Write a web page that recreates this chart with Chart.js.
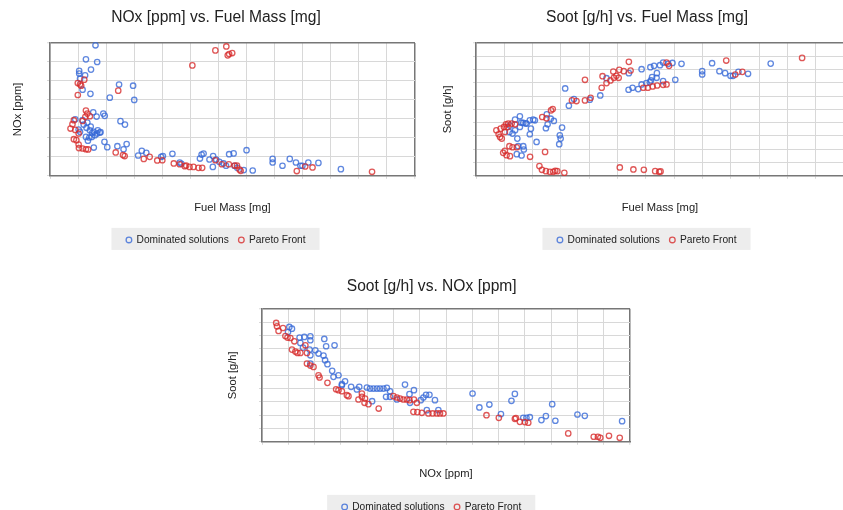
<!DOCTYPE html>
<html>
<head>
<meta charset="utf-8">
<script src="https://cdn.jsdelivr.net/npm/chart.js@4"></script>
<style>
  html, body { margin: 0; padding: 0; background: #fff; }
  body { width: 843px; height: 510px; overflow: hidden; position: relative; }
  canvas { position: absolute; }
</style>
</head>
<body>
<canvas id="noxFuel" width="432" height="255" style="left:0px;top:0px"></canvas>
<canvas id="sootFuel" width="430" height="255" style="left:430px;top:0px"></canvas>
<canvas id="sootNox" width="432" height="255" style="left:215px;top:267px"></canvas>
<script>
// values are in grid units (the original chart shows no tick labels)

// NOx vs fuel mass
const noxFuelDomX = [1.62,1.28,1.68,1.46,1.04,1.04,1.25,1.07,1.16,1.44,2.46,2.96,2.13,3.0,1.54,1.66,1.9,1.95,0.9,1.16,1.33,2.51,2.67,1.3,1.42,1.56,1.68,1.77,1.6,1.49,1.4,1.28,1.02,1.07,1.7,1.8,1.5,1.45,1.2,1.35,1.94,2.04,1.56,2.4,2.73,2.62,3.27,3.43,3.14,3.96,4.02,4.36,4.62,4.68,5.4,5.47,5.34,5.68,5.81,5.92,5.8,6.03,6.18,6.27,6.38,6.54,6.57,6.67,7.0,6.9,7.22,7.93,7.93,8.28,8.54,8.76,8.92,8.99,9.2,9.56,10.36];
const noxFuelDomY = [6.88,6.14,6.0,5.6,5.53,5.39,5.3,5.12,4.54,4.32,4.81,4.75,4.12,4.0,3.35,3.12,3.28,3.16,2.98,2.93,2.81,2.88,2.7,2.53,2.4,2.32,2.23,2.28,2.14,2.05,2.02,2.05,2.44,2.32,2.4,2.3,2.25,2.6,2.7,1.85,1.79,1.51,1.49,1.56,1.67,1.4,1.32,1.21,1.07,1.0,1.04,1.16,0.7,0.63,1.12,1.17,0.91,0.86,1.04,0.86,0.47,0.74,0.65,0.53,1.14,1.18,0.53,0.42,1.35,0.3,0.28,0.89,0.7,0.53,0.89,0.7,0.53,0.53,0.7,0.68,0.35];
const noxFuelParX = [6.28,5.89,6.49,6.33,6.38,5.07,0.99,1.07,1.11,1.22,0.99,2.43,1.28,1.33,1.26,1.42,1.16,0.85,0.8,0.73,0.9,1.02,0.85,0.94,1.02,1.16,1.28,1.36,1.03,2.34,2.66,2.6,3.34,3.55,3.82,4.0,4.41,4.62,4.8,4.85,4.97,5.11,5.29,5.42,5.89,6.12,6.37,6.58,6.66,6.75,6.79,8.79,9.09,9.35,11.47];
const noxFuelParY = [6.82,6.61,6.47,6.35,6.42,5.82,4.89,4.82,4.75,5.07,4.26,4.49,3.44,3.28,3.11,3.14,2.89,2.93,2.72,2.49,2.42,2.23,1.93,1.88,1.65,1.44,1.4,1.39,1.46,1.23,1.04,1.09,0.89,1.0,0.81,0.82,0.65,0.61,0.51,0.54,0.47,0.47,0.42,0.42,0.82,0.61,0.61,0.54,0.54,0.33,0.26,0.25,0.49,0.44,0.21];

// soot vs fuel mass
const sootFuelDomX = [3.15,3.28,3.46,4.02,4.39,4.61,5.4,5.39,5.53,5.73,5.85,5.85,6.16,6.29,6.18,6.22,6.39,6.38,6.02,6.14,6.5,6.61,6.79,6.94,6.61,7.04,7.26,7.99,7.99,8.34,8.6,8.8,8.99,9.08,9.27,9.61,10.41,1.55,1.38,1.67,1.79,1.9,2.02,2.08,1.55,1.38,1.29,1.46,1.49,1.67,1.69,1.44,1.61,1.9,1.94,2.14,2.47,2.53,2.64,2.75,2.5,3.04,2.96,2.99,2.94,1.2,1.18,1.75,1.6];
const sootFuelDomY = [6.58,5.28,5.78,5.73,6.05,7.35,7.73,6.48,6.63,6.53,6.88,8.03,8.18,8.28,7.18,7.43,7.73,7.38,6.98,7.05,8.33,8.53,8.43,8.5,7.13,7.23,8.43,7.88,7.63,8.48,7.88,7.73,7.53,7.53,7.83,7.68,8.45,4.48,4.23,3.98,3.93,4.18,4.23,4.18,3.68,3.43,3.18,2.8,2.23,2.23,1.98,1.63,1.53,3.13,3.55,2.55,3.58,3.88,4.3,4.13,4.63,3.63,3.05,2.8,2.38,3.78,3.3,3.95,4.0];
const sootFuelParX = [11.52,8.84,9.41,9.16,6.73,6.82,5.4,4.85,5.06,5.22,5.46,4.96,5.04,4.87,4.47,3.85,4.75,4.61,4.44,3.85,3.55,3.39,4.05,5.91,6.07,6.24,6.4,6.61,6.73,2.71,2.65,2.34,2.49,2.44,2.24,2.33,2.47,2.61,2.73,2.8,2.87,3.12,5.08,5.56,5.93,6.33,6.47,6.52,0.72,0.87,0.8,0.85,0.91,1.02,1.06,1.14,1.26,1.38,0.99,1.11,1.18,1.29,1.44,1.02,1.08,1.2,0.96,1.91];
const sootFuelParY = [8.88,8.68,7.83,7.63,8.53,8.28,8.58,7.85,7.98,7.88,7.93,7.53,7.38,7.38,7.5,7.23,7.18,6.98,6.63,5.68,5.63,5.68,5.88,6.63,6.63,6.73,6.8,6.85,6.88,5.03,4.93,4.43,4.33,1.8,0.73,0.45,0.35,0.3,0.3,0.38,0.35,0.23,0.63,0.48,0.45,0.35,0.3,0.33,3.43,3.55,3.13,2.93,2.8,3.3,3.88,3.93,3.93,3.88,3.68,3.68,2.23,2.15,2.15,1.88,1.55,1.48,1.73,1.43];

// soot vs NOx
const sootNoxDomX = [1.04,1.14,0.99,1.43,1.61,1.84,1.84,1.46,1.56,1.81,2.03,2.15,1.84,2.34,2.37,2.44,2.76,2.4,2.49,1.84,2.67,2.91,2.72,3.04,3.16,3.39,3.04,3.61,3.7,3.99,4.11,4.24,4.37,4.49,4.62,4.75,4.87,5.44,5.78,5.61,5.63,4.72,4.87,4.19,5.13,6.14,6.24,6.37,6.04,6.58,6.27,6.71,8.01,8.27,8.65,9.09,9.49,9.62,9.94,10.06,10.19,10.63,10.8,11.04,11.16,12.0,12.28,13.7];
const sootNoxDomY = [8.63,8.5,8.25,7.83,7.88,7.93,7.63,7.43,7.08,6.93,6.88,6.63,6.5,6.48,7.73,7.18,7.25,6.13,5.83,5.88,5.33,5.0,4.88,4.33,4.55,4.13,4.25,3.93,4.13,4.08,4.0,4.0,4.0,4.0,4.0,4.05,3.8,4.3,3.88,3.58,2.93,3.38,3.38,3.05,3.18,3.33,3.53,3.53,3.13,3.13,2.38,2.38,3.63,2.58,2.8,2.08,3.08,3.6,1.8,1.8,1.85,1.63,1.93,2.83,1.58,2.05,1.95,1.55];
const sootNoxParX = [0.54,0.57,0.63,0.8,0.89,0.97,1.08,1.23,1.14,1.27,1.35,1.46,1.65,1.71,1.71,1.84,1.96,2.15,2.19,2.49,2.82,2.91,3.04,3.23,3.29,3.67,3.8,3.8,3.92,3.9,4.05,4.44,5.0,5.13,5.25,5.38,5.51,5.61,5.78,5.89,5.76,5.91,6.08,6.33,6.49,6.65,6.77,6.9,8.54,9.01,9.62,9.66,9.81,10.0,10.13,11.65,12.62,12.78,12.87,13.2,13.61];
const sootNoxParY = [8.93,8.68,8.33,8.55,7.95,7.83,7.8,7.55,6.93,6.78,6.68,6.68,7.25,6.68,5.88,5.73,5.63,5.0,4.83,4.43,3.95,3.88,3.8,3.5,3.43,3.18,3.63,3.38,3.25,2.93,2.83,2.5,3.43,3.33,3.25,3.18,3.18,3.13,3.18,2.93,2.25,2.23,2.18,2.13,2.13,2.13,2.13,2.13,2.0,1.8,1.73,1.78,1.5,1.48,1.43,0.63,0.38,0.38,0.3,0.45,0.3];

const BLUE = 'rgba(55,105,215,0.8)';
const RED = 'rgba(215,45,45,0.8)';
const GRID = '#d8d8d8';
const BORDER = '#777';

Chart.defaults.font.family = '"Liberation Sans", Arial, sans-serif';
Chart.defaults.color = '#222';

function pts(xs, ys) {
  return xs.map((x, i) => ({ x: x, y: ys[i] }));
}

// gray box behind the legend items
const legendBox = {
  id: 'legendBox',
  beforeDraw(chart) {
    const boxes = chart.legend.legendHitBoxes;
    if (!boxes || !boxes.length) return;
    const first = boxes[0], last = boxes[boxes.length - 1];
    const cy = first.top + first.height / 2;
    const ctx = chart.ctx;
    ctx.save();
    ctx.fillStyle = '#ededed';
    ctx.fillRect(first.left - 15, cy - 12, last.left + last.width - first.left + 29, 22);
    ctx.restore();
  }
};

function gridOpts(max) {
  return {
    color: c => (c.tick && c.tick.value === max ? BORDER : GRID),
    lineWidth: c => (c.tick && c.tick.value === max ? 1.5 : 1),
    tickColor: GRID,
    tickWidth: 1,
    tickLength: 3
  };
}

function makeChart(id, o) {
  new Chart(document.getElementById(id), {
    type: 'scatter',
    data: {
      datasets: [
        { label: 'Dominated solutions', data: pts(o.domX, o.domY), borderColor: BLUE, backgroundColor: 'rgba(0,0,0,0)', pointRadius: 2.7, pointBorderWidth: 1.3, order: 1, clip: false },
        { label: 'Pareto Front', data: pts(o.parX, o.parY), borderColor: RED, backgroundColor: 'rgba(0,0,0,0)', pointRadius: 2.7, pointBorderWidth: 1.3, order: 0, clip: false }
      ]
    },
    options: {
      responsive: false,
      animation: false,
      layout: { padding: { left: o.padL, right: o.padR, top: 0, bottom: 0 } },
      plugins: {
        tooltip: { enabled: false },
        title: {
          display: true,
          text: o.title,
          font: { size: 15.6, weight: 'normal' },
          padding: { top: o.titleTop, bottom: o.titleGap }
        },
        legend: {
          position: 'bottom',
          labels: {
            usePointStyle: true,
            pointStyle: 'circle',
            boxWidth: 5,
            boxHeight: 4,
            padding: 10,
            font: { size: 10.2 },
            sort: (a, b) => a.datasetIndex - b.datasetIndex
          }
        }
      },
      scales: {
        x: {
          type: 'linear',
          min: 0, max: o.xMax,
          ticks: { display: false, stepSize: 1 },
          grid: gridOpts(o.xMax),
          border: { color: BORDER, width: 1.5 },
          title: { display: true, text: o.xTitle, font: { size: 11.2 }, padding: { top: 0, bottom: o.xTitlePad } },
          afterFit: s => { s.height = o.xAxisH; }
        },
        y: {
          type: 'linear',
          min: 0, max: o.yMax,
          ticks: { display: false, stepSize: 1 },
          grid: gridOpts(o.yMax),
          border: { color: BORDER, width: 1.5 },
          title: { display: true, text: o.yTitle, font: { size: 11.2 }, padding: { top: o.yTitlePad, bottom: 0 } },
          afterFit: s => { s.width = o.yAxisW; }
        }
      }
    },
    plugins: [legendBox]
  });
}

makeChart('noxFuel', {
  title: 'NOx [ppm] vs. Fuel Mass [mg]', xTitle: 'Fuel Mass [mg]', yTitle: 'NOx [ppm]',
  xMax: 13, yMax: 7,
  domX: noxFuelDomX, domY: noxFuelDomY, parX: noxFuelParX, parY: noxFuelParY,
  padL: 17, padR: 17, yAxisW: 33, yTitlePad: -6.2, titleTop: 8.6, titleGap: 15.7, xAxisH: 49, xTitlePad: 9.8
});

makeChart('sootFuel', {
  title: 'Soot [g/h] vs. Fuel Mass [mg]', xTitle: 'Fuel Mass [mg]', yTitle: 'Soot [g/h]',
  xMax: 13, yMax: 10,
  domX: sootFuelDomX, domY: sootFuelDomY, parX: sootFuelParX, parY: sootFuelParY,
  padL: 20, padR: 16, yAxisW: 26, yTitlePad: -9.2, titleTop: 8.6, titleGap: 15.7, xAxisH: 49, xTitlePad: 9.8
});

makeChart('sootNox', {
  title: 'Soot [g/h] vs. NOx [ppm]', xTitle: 'NOx [ppm]', yTitle: 'Soot [g/h]',
  xMax: 14, yMax: 10,
  domX: sootNoxDomX, domY: sootNoxDomY, parX: sootNoxParX, parY: sootNoxParY,
  padL: 18.4, padR: 17, yAxisW: 28.6, yTitlePad: -7.6, titleTop: 10, titleGap: 13, xAxisH: 50, xTitlePad: 11.5
});
</script>
</body>
</html>
